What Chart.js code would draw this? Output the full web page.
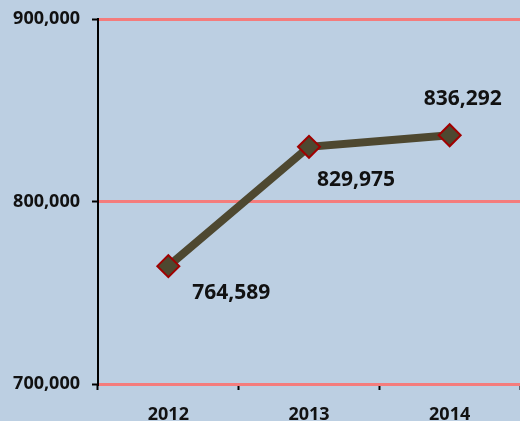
<!DOCTYPE html>
<html>
<head>
<meta charset="utf-8">
<script src="https://cdn.jsdelivr.net/npm/chart.js@4"></script>
<style>
  html,body{margin:0;padding:0;background:#bccfe2;}
  #wrap{width:520px;height:421px;position:relative;}
</style>
</head>
<body>
<div id="wrap"><canvas id="chart"></canvas></div>
<script>
// data
const years = ["2012", "2013", "2014"];
const visitors = [764589, 829975, 836292];
const labelOffsets = [[63, 27], [47, 33], [13, -36]];

const fmt = v => v.toLocaleString("en-US");
const FONT = "'Open Sans', Lato, sans-serif";

// background fill
const bgPlugin = {
  id: "bg",
  beforeDraw(c){
    const g = c.ctx;
    g.save();
    g.fillStyle = "#bccfe2";
    g.fillRect(0, 0, c.width, c.height);
    g.restore();
  }
};

// value labels next to points
const valueLabels = {
  id: "valueLabels",
  afterDatasetsDraw(c){
    const g = c.ctx;
    const meta = c.getDatasetMeta(0);
    g.save();
    g.font = "bold 21px " + FONT;
    g.fillStyle = "#111";
    g.textAlign = "center";
    g.textBaseline = "middle";
    meta.data.forEach((pt, i) => {
      g.fillText(fmt(visitors[i]), pt.x + labelOffsets[i][0], pt.y + labelOffsets[i][1]);
    });
    g.restore();
  }
};

new Chart(document.getElementById("chart"), {
  type: "line",
  data: {
    labels: years,
    datasets: [{
      data: visitors,
      borderColor: "#4e4830",
      borderWidth: 8,
      backgroundColor: "#4e4830",
      pointStyle: "rectRot",
      pointRadius: 11,
      pointBorderColor: "#a00000",
      pointBorderWidth: 2,
      pointBackgroundColor: "#4e4830",
      tension: 0,
      clip: false
    }]
  },
  options: {
    responsive: true,
    maintainAspectRatio: false,
    animation: false,
    layout: { autoPadding: false, padding: { top: 19, right: 0, left: 0, bottom: 0 } },
    plugins: {
      legend: { display: false },
      tooltip: { enabled: false }
    },
    scales: {
      x: {
        offset: true,
        afterFit(s){ s.height = 37; s.paddingRight = 0; s.paddingLeft = 0; },
        border: { display: false },
        grid: {
          offset: true,
          drawOnChartArea: false,
          tickColor: "#000",
          tickWidth: 2,
          tickLength: 6
        },
        ticks: {
          color: "#111",
          padding: 14,
          font: { family: FONT, weight: "bold", size: 18 }
        }
      },
      y: {
        min: 700000,
        max: 900000,
        afterFit(s){ s.width = 98; s.paddingTop = 0; s.paddingBottom = 0; },
        border: { color: "#000", width: 2 },
        grid: {
          color: "#f47c7c",
          lineWidth: 3,
          tickColor: "#000",
          tickWidth: 2,
          tickLength: 6
        },
        ticks: {
          stepSize: 100000,
          color: "#111",
          padding: 12,
          font: { family: FONT, weight: "bold", size: 18 },
          callback: v => fmt(v)
        }
      }
    }
  },
  plugins: [bgPlugin, valueLabels]
});
</script>
</body>
</html>
